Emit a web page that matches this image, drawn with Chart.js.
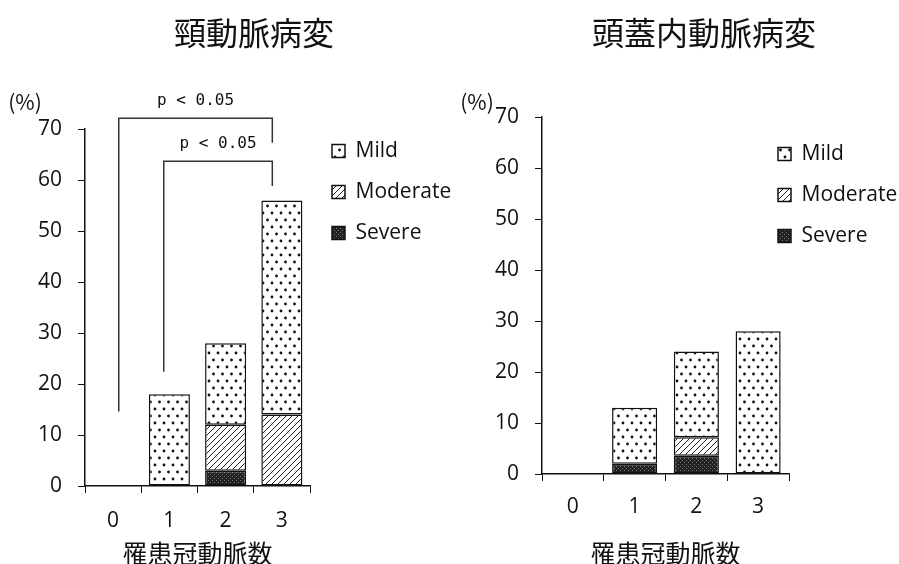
<!DOCTYPE html>
<html>
<head>
<meta charset="utf-8">
<script src="https://cdn.jsdelivr.net/npm/chart.js"></script>
<style>
  html, body { margin: 0; padding: 0; background: #fff; overflow: hidden; width: 899px; height: 564px; }
  .box { position: absolute; top: 0; width: 508px; height: 564px; }
  #leftBox { left: 0; }
  #rightBox { left: 450px; }
</style>
</head>
<body>
<div class="box" id="leftBox"><canvas id="carotid"></canvas></div>
<div class="box" id="rightBox"><canvas id="intracranial"></canvas></div>
<script>
const categories = ['0', '1', '2', '3'];

// 頸動脈病変 (%)
const carotidSevere = [null, null, 3, null];
const carotidModerate = [null, null, 9, 14];
const carotidMild = [null, 18, 16, 42];

// 頭蓋内動脈病変 (%)
const intraSevere = [null, 2, 3.6, null];
const intraModerate = [null, null, 3.6, null];
const intraMild = [null, 11, 16.8, 28];

// significance brackets on the carotid chart (category index, % units)
const sigFrom = [0.1, 0.9];
const sigTo = [2.83, 2.83];
const sigTop = [72.1, 63.7];
const sigFromEnd = [14.6, 22.4];
const sigToEnd = [67.3, 58.8];
const sigText = ['p < 0.05', 'p < 0.05'];

function makePattern(w, h, draw) {
  const c = document.createElement('canvas');
  c.width = w; c.height = h;
  const g = c.getContext('2d');
  draw(g, w, h);
  return document.createElement('canvas').getContext('2d').createPattern(c, 'repeat');
}

const dots = makePattern(9, 14, (g, w, h) => {
  g.fillStyle = '#fff'; g.fillRect(0, 0, w, h);
  g.fillStyle = '#111';
  g.beginPath(); g.arc(2, 3, 1.4, 0, Math.PI * 2); g.fill();
  g.beginPath(); g.arc(6.5, 10, 1.4, 0, Math.PI * 2); g.fill();
});

const hatch = makePattern(6, 6, (g, w, h) => {
  g.fillStyle = '#fff'; g.fillRect(0, 0, w, h);
  g.strokeStyle = '#222'; g.lineWidth = 1;
  g.beginPath();
  g.moveTo(0, h); g.lineTo(w, 0);
  g.moveTo(-1, 1); g.lineTo(1, -1);
  g.moveTo(w - 1, h + 1); g.lineTo(w + 1, h - 1);
  g.stroke();
});

const dense = makePattern(4, 4, (g) => {
  g.fillStyle = '#222'; g.fillRect(0, 0, 4, 4);
  g.fillStyle = '#777'; g.fillRect(0, 0, 1, 1); g.fillRect(2, 2, 1, 1);
});

function datasets(severe, moderate, mild) {
  return [
    { label: 'Severe', data: severe, backgroundColor: dense },
    { label: 'Moderate', data: moderate, backgroundColor: hatch },
    { label: 'Mild', data: mild, backgroundColor: dots }
  ].map(d => Object.assign(d, {
    borderColor: '#111', borderWidth: 1.5, borderSkipped: false,
    barPercentage: 0.73, categoryPercentage: 1
  }));
}

// fixes legend width for the layout, then moves it where the figure has it
const legendPlacer = {
  id: 'legendPlacer',
  beforeLayout(chart, args, opts) {
    const lg = chart.legend;
    if (!lg || lg._patched) return;
    const fit = lg.fit.bind(lg);
    const w = opts.width;
    lg.fit = function () { fit(); this.width = w; };
    lg._patched = true;
  },
  afterLayout(chart, args, opts) {
    const lg = chart.legend;
    lg.left = opts.left; lg.top = opts.top;
    lg.right = lg.left + 200; lg.bottom = lg.top + 200;
  }
};

const extras = {
  id: 'extras',
  afterDraw(chart, args, opts) {
    const { ctx } = chart;
    ctx.save();
    ctx.fillStyle = '#111';
    ctx.textAlign = 'center';
    ctx.textBaseline = 'middle';
    ctx.font = '21px "Noto Sans CJK JP"';
    ctx.fillText('(%)', opts.unitX, opts.unitY);
    if (opts.brackets) {
      const xs = chart.scales.x, ys = chart.scales.y;
      ctx.strokeStyle = '#333';
      ctx.lineWidth = 1.5;
      ctx.font = '16px "DejaVu Sans Mono"';
      sigFrom.forEach((f, i) => {
        const x1 = xs.getPixelForValue(f);
        const x2 = xs.getPixelForValue(sigTo[i]);
        const yt = ys.getPixelForValue(sigTop[i]);
        ctx.beginPath();
        ctx.moveTo(x1, ys.getPixelForValue(sigFromEnd[i]));
        ctx.lineTo(x1, yt);
        ctx.lineTo(x2, yt);
        ctx.lineTo(x2, ys.getPixelForValue(sigToEnd[i]));
        ctx.stroke();
        ctx.fillText(sigText[i], (x1 + x2) / 2, yt - 17);
      });
    }
    ctx.restore();
  }
};

function makeChart(id, title, sev, mod, mild, cfg) {
  return new Chart(document.getElementById(id), {
    type: 'bar',
    data: { labels: categories, datasets: datasets(sev, mod, mild) },
    options: {
      responsive: true,
      maintainAspectRatio: false,
      animation: false,
      layout: { padding: 0 },
      scales: {
        x: {
          stacked: true,
          afterFit: s => { s.height = cfg.xHeight; },
          grid: { offset: true, drawOnChartArea: false, tickLength: 7, color: '#111' },
          border: { color: '#111', width: 1.5 },
          ticks: { color: '#111', font: { family: 'Open Sans', size: 21 }, padding: cfg.xPad },
          title: {
            display: true, text: '罹患冠動脈数', color: '#111',
            font: { family: 'Noto Sans CJK JP', size: 25, lineHeight: 1 },
            padding: { top: 0, bottom: -2 }
          }
        },
        y: {
          stacked: true,
          min: 0,
          max: 70,
          afterFit: s => { s.width = cfg.yWidth; },
          grid: { drawOnChartArea: false, tickLength: 7, color: '#111' },
          border: { color: '#111', width: 1.5 },
          ticks: { stepSize: 10, color: '#111', font: { family: 'Open Sans', size: 21 }, padding: 16 }
        }
      },
      plugins: {
        title: {
          display: true, text: title, color: '#111',
          font: { family: 'Noto Sans CJK JP', size: 32, weight: 'normal' },
          padding: { top: 14, bottom: cfg.titleGap }
        },
        legend: {
          position: 'right',
          align: 'start',
          reverse: true,
          fullSize: false,
          labels: {
            boxWidth: 13, boxHeight: 13, padding: 20, color: '#111',
            font: { family: 'Open Sans', size: 21 }
          }
        },
        tooltip: { enabled: false },
        legendPlacer: cfg.legend,
        extras: cfg.extras
      }
    },
    plugins: [legendPlacer, extras]
  });
}

makeChart('carotid', '頸動脈病変', carotidSevere, carotidModerate, carotidMild, {
  xHeight: 78, xPad: 15, yWidth: 85, titleGap: 76.6,
  legend: { width: 198, left: 312, top: 120.5 },
  extras: { unitX: 25, unitY: 102, brackets: true }
});

makeChart('intracranial', '頭蓋内動脈病変', intraSevere, intraModerate, intraMild, {
  xHeight: 90, xPad: 13, yWidth: 92, titleGap: 64.6,
  legend: { width: 169, left: 308, top: 123.5 },
  extras: { unitX: 27, unitY: 102, brackets: false }
});
</script>
</body>
</html>
